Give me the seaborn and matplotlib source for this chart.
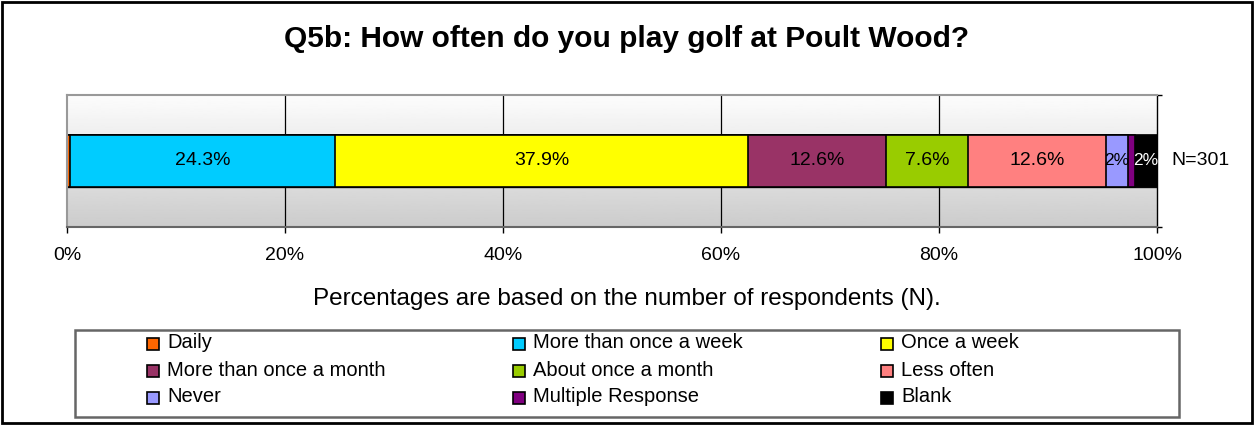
import numpy as np
import pandas as pd
import matplotlib
matplotlib.use("Agg")
import matplotlib.pyplot as plt
import matplotlib.patches as mpatches
import seaborn as sns

# --------------------------------------------------
# Data
# --------------------------------------------------
categories = ["Daily", "More than once a week", "Once a week",
              "More than once a month", "About once a month", "Less often",
              "Never", "Multiple Response", "Blank"]
values = [0.3, 24.3, 37.9, 12.6, 7.6, 12.6, 2.0, 0.7, 2.0]
colors = ["#FF6600", "#00CCFF", "#FFFF00", "#993366", "#99CC00",
          "#FF8080", "#9999FF", "#800080", "#000000"]
label_colors = ["black"] * 8 + ["white"]
tick_labels = ["0%", "20%", "40%", "60%", "80%", "100%"]
n_label = "N=301"
title = "Q5b: How often do you play golf at Poult Wood?"
note = "Percentages are based on the number of respondents (N)."

df = pd.DataFrame({"category": categories, "value": values})
df["cum"] = df["value"].cumsum()
df["row"] = "Q5b"

sns.set_theme(style="white")
plt.rcParams["font.family"] = ["Liberation Sans", "DejaVu Sans"]
plt.rcParams["text.color"] = "black"
plt.rcParams["xtick.color"] = "black"
plt.rcParams["ytick.color"] = "black"

W, H = 1254, 425
fig = plt.figure(figsize=(W / 100, H / 100), dpi=100)
ax = fig.add_axes([67 / W, 1 - 227 / H, (1157 - 67) / W, 132 / H])

# gradient background of plot area (white at top, grey at bottom)
grad = np.linspace(0.99, 0.80, 100).reshape(-1, 1)
ax.imshow(grad, cmap="gray", vmin=0, vmax=1, aspect="auto",
          extent=[0, 100, 0.5, -0.5], zorder=0)

# grid lines
for x in [20, 40, 60, 80]:
    ax.axvline(x, color="black", lw=0.9, zorder=1)

bar_h = 0.40
ax.axhline(bar_h / 2, color="#222222", lw=1, zorder=1)
ax.axhline(-bar_h / 2, color="#222222", lw=1, zorder=1)

# stacked bar: draw cumulative totals, largest first
for i in reversed(range(len(df))):
    sub = df.iloc[[i]]
    sns.barplot(data=sub, x="cum", y="row", orient="h", color=colors[i],
                width=bar_h, edgecolor="black", linewidth=1.2,
                saturation=1, ax=ax, zorder=2)

# segment labels
left = 0.0
for v, lc in zip(values, label_colors):
    if v >= 3:
        ax.text(left + v / 2, 0, f"{v:.1f}%", ha="center", va="center",
                fontsize=14, color=lc, zorder=3)
    elif v >= 1.5:
        ax.text(left + v / 2, 0, f"{v:.0f}%", ha="center", va="center",
                fontsize=12.5, color=lc, zorder=3)
    left += v

ax.text(101.35, 0, n_label, ha="left", va="center", fontsize=14, clip_on=False)

ax.set_xlim(0, 100)
ax.set_ylim(0.5, -0.5)
ax.set_xticks([0, 20, 40, 60, 80, 100])
ax.set_xticklabels(tick_labels, fontsize=14)
ax.set_yticks([-0.5, 0.5])
ax.set_xlabel("")
ax.set_ylabel("")
ax.tick_params(axis="x", length=4.3, width=1, bottom=True,
               direction="out", pad=10)
ax.tick_params(axis="y", left=False, right=True, labelleft=False,
               length=3.5, width=1, direction="out")
for side, sp in ax.spines.items():
    sp.set_color("#999999")
    sp.set_linewidth(1.5)
ax.spines["bottom"].set_color("#666666")
ax.spines["right"].set_color("black")
ax.spines["right"].set_linewidth(1)

fig.text(0.5, 1 - 39 / H, title, ha="center", va="center",
         fontsize=21.5, fontweight="bold")
fig.text(0.5, 1 - 299 / H, note, ha="center", va="center", fontsize=17.5)

# legend box, drawn row-wise like the original
fig.patches.append(mpatches.Rectangle((75 / W, 1 - 417 / H), (1179 - 75) / W,
                                      87 / H, transform=fig.transFigure,
                                      fill=False, edgecolor="#666666", lw=1.8))
col_x = [147, 513, 881]
row_y = [344, 371, 398]
sq = 11.5
for k, (lab, c) in enumerate(zip(categories, colors)):
    cx = col_x[k % 3]
    cy = row_y[k // 3]
    fig.patches.append(mpatches.Rectangle((cx / W, 1 - (cy + sq / 2) / H),
                                          sq / W, sq / H,
                                          transform=fig.transFigure,
                                          facecolor=c, edgecolor="black", lw=1.2))
    fig.text((cx + 20) / W, 1 - (cy - 1) / H, lab, ha="left", va="center",
             fontsize=14.5)

# outer border
fig.patches.append(mpatches.Rectangle((2 / W, 2 / H), (W - 4) / W, (H - 4) / H,
                                      transform=fig.transFigure, fill=False,
                                      edgecolor="black", lw=2))

fig.savefig("out.png", dpi=100)
